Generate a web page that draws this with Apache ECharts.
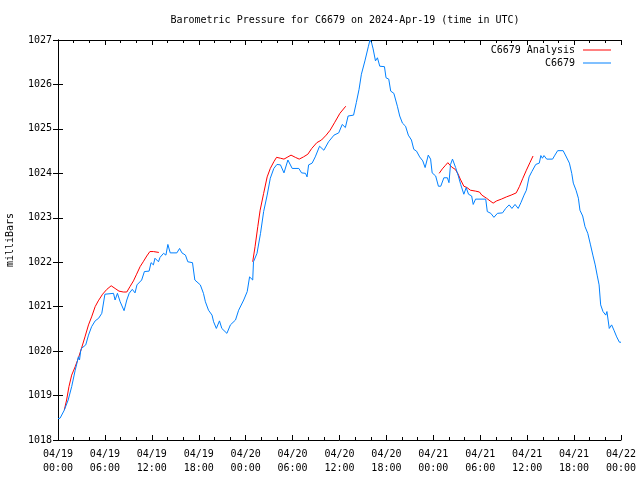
<!DOCTYPE html>
<html>
<head>
<meta charset="utf-8">
<script src="https://cdn.jsdelivr.net/npm/echarts@6/dist/echarts.min.js"></script>
<style>html,body{margin:0;padding:0;background:#fff}#c{width:640px;height:480px}</style>
</head>
<body>
<div id="c"></div>
<script>
// Hours since 2024-04-19 00:00 UTC
var blueHours = [0,0.26,0.8,1.3,1.75,2.2,2.45,2.6,2.75,2.9,3.0,3.55,3.9,4.3,4.75,5.2,5.6,6.0,7.1,7.3,7.6,7.95,8.45,8.8,9.1,9.5,9.85,10.1,10.7,11.05,11.65,11.9,12.2,12.4,12.85,13.05,13.5,13.8,14.05,14.35,15.2,15.55,15.85,16.3,16.6,17.2,17.5,18.2,18.6,18.85,19.25,19.7,19.9,20.25,20.65,20.95,21.6,22.05,22.7,23.1,23.75,24.2,24.5,24.9,25.0,25.45,25.9,26.3,26.75,27.15,27.6,28.0,28.45,28.9,29.4,29.95,30.8,31.15,31.65,31.85,32.05,32.5,32.9,33.45,34.0,34.6,35.3,35.9,36.35,36.75,37.1,37.8,38.15,38.5,38.8,39.25,39.7,39.9,40.1,40.3,40.6,40.85,41.15,41.75,41.95,42.3,42.55,42.95,43.4,43.7,44.05,44.45,44.8,45.2,45.5,45.85,46.25,46.65,46.95,47.35,47.65,47.85,48.3,48.65,48.95,49.35,49.8,50.0,50.2,50.45,50.85,51.2,51.5,51.9,52.2,52.5,52.9,53.1,53.4,54.7,54.9,55.35,55.75,56.2,56.85,57.25,57.7,58.05,58.45,58.85,59.2,59.6,59.9,60.25,60.6,61.1,61.55,61.75,61.95,62.15,62.5,63.25,63.55,63.9,64.6,64.95,65.4,65.7,65.9,66.25,66.55,66.75,67.1,67.4,67.75,68.1,68.4,68.7,68.95,69.2,69.4,69.7,70.05,70.2,70.5,70.8,71.1,71.45,71.8,72];
var bluePressure = [1018.48,1018.49,1018.67,1018.9,1019.2,1019.57,1019.75,1019.87,1019.8,1020.0,1020.06,1020.14,1020.36,1020.55,1020.68,1020.74,1020.85,1021.28,1021.3,1021.15,1021.3,1021.11,1020.91,1021.15,1021.3,1021.39,1021.31,1021.49,1021.6,1021.79,1021.8,1021.99,1021.94,1022.09,1022.01,1022.11,1022.2,1022.16,1022.4,1022.21,1022.21,1022.31,1022.21,1022.16,1022.01,1021.99,1021.6,1021.49,1021.3,1021.11,1020.92,1020.81,1020.66,1020.51,1020.68,1020.51,1020.4,1020.59,1020.7,1020.92,1021.15,1021.34,1021.67,1021.6,1022.01,1022.2,1022.65,1023.14,1023.51,1023.89,1024.11,1024.2,1024.19,1024.01,1024.3,1024.11,1024.11,1024.01,1024.0,1023.92,1024.19,1024.23,1024.37,1024.61,1024.52,1024.71,1024.86,1024.91,1025.1,1025.03,1025.29,1025.31,1025.59,1025.89,1026.23,1026.53,1026.86,1027.0,1026.94,1026.8,1026.53,1026.6,1026.41,1026.4,1026.15,1026.12,1025.85,1025.8,1025.51,1025.29,1025.13,1025.06,1024.86,1024.75,1024.54,1024.5,1024.37,1024.28,1024.13,1024.41,1024.32,1024.01,1023.94,1023.71,1023.71,1023.9,1023.9,1023.79,1024.2,1024.32,1024.13,1023.94,1023.75,1023.53,1023.68,1023.53,1023.49,1023.3,1023.42,1023.42,1023.14,1023.1,1023.01,1023.1,1023.11,1023.21,1023.29,1023.21,1023.3,1023.21,1023.34,1023.51,1023.62,1023.92,1024.04,1024.2,1024.23,1024.4,1024.34,1024.4,1024.32,1024.32,1024.41,1024.51,1024.51,1024.39,1024.23,1024.0,1023.78,1023.62,1023.44,1023.17,1023.04,1022.8,1022.65,1022.39,1022.16,1021.94,1021.71,1021.49,1021.04,1020.89,1020.81,1020.89,1020.51,1020.59,1020.47,1020.32,1020.2,1020.2];

// Analysis: null marks a gap between segments
var analysisHours = [0.8,1.1,1.4,1.75,2.2,2.6,3.0,3.45,3.9,4.3,4.75,5.15,5.7,6.25,6.8,7.3,7.8,8.35,8.8,9.2,9.65,10.05,10.5,10.9,11.35,11.75,12.2,12.4,12.9,
  18,
  24.9,25.2,25.55,25.85,26.3,26.75,27.15,27.6,27.95,28.45,28.9,29.3,29.8,30.35,30.85,31.4,31.95,32.45,33.1,33.7,34.3,34.8,35.4,36.05,36.8,
  42,
  48.75,49.15,49.5,49.85,50.35,50.8,51.15,51.45,51.9,52.3,52.75,53.4,53.9,54.2,54.8,55.25,55.65,56.1,56.7,57.35,57.95,58.6,59.0,59.45,59.9,60.35,60.75];
var analysisPressure = [1018.67,1018.9,1019.2,1019.46,1019.65,1019.84,1020.06,1020.32,1020.59,1020.77,1021.0,1021.13,1021.28,1021.39,1021.47,1021.41,1021.35,1021.33,1021.33,1021.45,1021.58,1021.73,1021.9,1022.01,1022.14,1022.24,1022.24,1022.22,1022.22,
  null,
  1022.01,1022.35,1022.8,1023.17,1023.55,1023.92,1024.11,1024.26,1024.36,1024.34,1024.32,1024.36,1024.41,1024.36,1024.32,1024.37,1024.43,1024.56,1024.69,1024.75,1024.86,1024.97,1025.15,1025.35,1025.51,
  null,
  1024.0,1024.1,1024.17,1024.24,1024.14,1024.09,1023.99,1023.87,1023.71,1023.68,1023.62,1023.6,1023.58,1023.51,1023.44,1023.38,1023.33,1023.38,1023.42,1023.47,1023.51,1023.56,1023.7,1023.89,1024.07,1024.24,1024.39];

var xTickLabels = ['04/19\n00:00','04/19\n06:00','04/19\n12:00','04/19\n18:00','04/20\n00:00','04/20\n06:00','04/20\n12:00','04/20\n18:00','04/21\n00:00','04/21\n06:00','04/21\n12:00','04/21\n18:00','04/22\n00:00'];
var yTickLabels = ['1018','1019','1020','1021','1022','1023','1024','1025','1026','1027'];
var titleText = 'Barometric Pressure for C6679 on 2024-Apr-19 (time in UTC)';
var yName = 'milliBars';
var seriesNames = ['C6679 Analysis', 'C6679'];

var FONT = 'DejaVu Sans Mono';
function pairs(xs, ys) {
  return xs.map(function (x, i) { return [x, ys[i] === null ? '-' : ys[i]]; });
}
var axisLine = { show: true, lineStyle: { color: '#000', width: 1 } };

var chart = echarts.init(document.getElementById('c'), null, { renderer: 'canvas' });
chart.setOption({
  animation: false,
  backgroundColor: '#fff',
  title: {
    text: titleText, left: 340, top: 10, textAlign: 'center',
    textStyle: { fontFamily: FONT, fontSize: 10, fontWeight: 'normal', color: '#000' }
  },
  legend: {
    orient: 'vertical', right: 24, top: 40, align: 'right',
    icon: 'rect', itemWidth: 28, itemHeight: 1, itemGap: 3,
    data: seriesNames,
    textStyle: { fontFamily: FONT, fontSize: 10, color: '#000', lineHeight: 10, padding: [0, 3, 0, 0] }
  },
  grid: { left: 58, right: 19, top: 40, bottom: 40, outerBoundsMode: 'none', containLabel: false },
  xAxis: [
    {
      type: 'value', position: 'bottom', min: 0, max: 72, interval: 6,
      axisLine: axisLine,
      axisTick: { inside: true, length: 5, lineStyle: { color: '#000' } },
      minorTick: { show: true, splitNumber: 3, length: 3, lineStyle: { color: '#000' } },
      splitLine: { show: false },
      axisLabel: {
        margin: 7, fontFamily: FONT, fontSize: 10, color: '#000', lineHeight: 14,
        formatter: function (v) { return xTickLabels[Math.round(v / 6)]; }
      }
    },
    {
      type: 'value', position: 'top', min: 0, max: 72, interval: 6,
      axisLine: axisLine,
      axisTick: { inside: true, length: 5, lineStyle: { color: '#000' } },
      minorTick: { show: true, splitNumber: 3, length: 3, lineStyle: { color: '#000' } },
      splitLine: { show: false },
      axisLabel: { show: false }
    }
  ],
  yAxis: [
    {
      type: 'value', position: 'left', min: 1018, max: 1027, interval: 1,
      name: yName, nameLocation: 'middle', nameGap: 43, nameRotate: 90,
      nameTextStyle: { fontFamily: FONT, fontSize: 10, color: '#000' },
      axisLine: axisLine,
      axisTick: { inside: true, length: 5, lineStyle: { color: '#000' } },
      splitLine: { show: false },
      axisLabel: {
        margin: 6, fontFamily: FONT, fontSize: 10, color: '#000',
        formatter: function (v) { return yTickLabels[Math.round(v - 1018)]; }
      }
    },
    {
      type: 'value', position: 'right', min: 1018, max: 1027, interval: 1,
      axisLine: axisLine,
      axisTick: { inside: true, length: 5, lineStyle: { color: '#000' } },
      splitLine: { show: false },
      axisLabel: { show: false }
    }
  ],
  series: [
    {
      name: seriesNames[0], type: 'line', xAxisIndex: 0, yAxisIndex: 0,
      data: pairs(analysisHours, analysisPressure), connectNulls: false,
      showSymbol: false, symbol: 'none', color: '#ff0000',
      lineStyle: { width: 1, color: '#ff0000' }
    },
    {
      name: seriesNames[1], type: 'line', xAxisIndex: 0, yAxisIndex: 0,
      data: pairs(blueHours, bluePressure),
      showSymbol: false, symbol: 'none', color: '#0080ff',
      lineStyle: { width: 1, color: '#0080ff' }
    }
  ]
});
</script>
</body>
</html>
